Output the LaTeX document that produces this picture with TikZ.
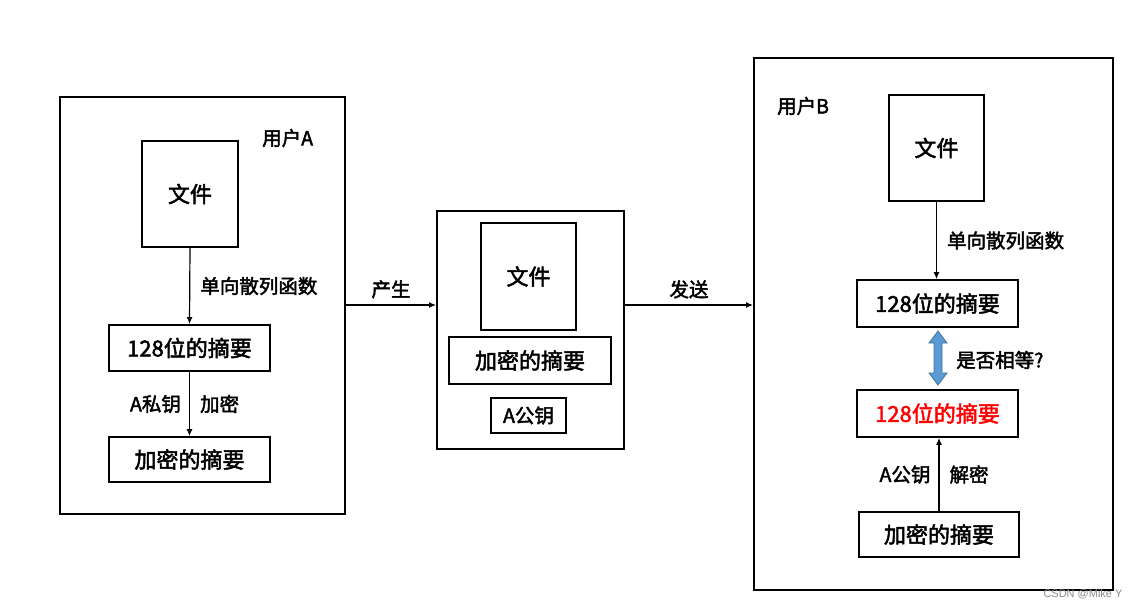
\documentclass[tikz,border=0pt]{standalone}
\usepackage{fontspec}
\setmainfont{Noto Sans CJK SC}[FakeBold=2.2]
\setsansfont{Liberation Sans}
\usetikzlibrary{arrows.meta}
\definecolor{dblue}{RGB}{65,113,156}
\definecolor{lblue}{RGB}{91,155,213}
\definecolor{wred}{RGB}{255,0,0}
\begin{document}
\begin{tikzpicture}[x=1pt,y=-1pt,
  box/.style={draw=black,line width=1.8pt,inner sep=0pt,fill=white},
  frame/.style={draw=black,line width=2pt,inner sep=0pt},
  txt/.style={font=\fontsize{22}{25}\selectfont,inner sep=0pt},
  lbl/.style={font=\fontsize{19.5}{23}\selectfont,inner sep=0pt},
  arr/.style={draw=black,line width=1.2pt,-{Latex[length=7pt,width=6pt]}}]
\useasboundingbox (0,0) rectangle (1137,609);
\fill[white] (0,0) rectangle (1137,609);
% user A
\node[frame,minimum width=285,minimum height=417] (ga) at (202.5,305.5) {};
\node[lbl,anchor=west] (ua) at (262,138) {用户A};
\node[box,txt,minimum width=96,minimum height=106] (fa) at (190,194) {文件};
\node[box,txt,minimum width=161,minimum height=46] (ha) at (189.5,348) {128位的摘要};
\node[box,txt,minimum width=161,minimum height=45] (ea) at (189.5,459.5) {加密的摘要};
\draw[arr] (fa.south) -- (ha.north) node[lbl,midway,right=10pt] (l1) {单向散列函数};
\draw[arr] (ha.south) -- (ea.north) node[lbl,midway,left=8pt] (l2) {A私钥}
  node[lbl,midway,right=10pt] (l3) {加密};
% middle
\node[frame,minimum width=187,minimum height=238] (mid) at (530.5,330) {};
\node[box,txt,minimum width=95,minimum height=107] (fm) at (528.5,276.5) {文件};
\node[box,txt,minimum width=162,minimum height=47] (em) at (530,360.5) {加密的摘要};
\node[box,lbl,minimum width=75,minimum height=35] (km) at (528.5,415.5) {A公钥};
\coordinate (p1) at (ga.east |- 0,305);
\coordinate (p2) at (mid.west |- 0,305);
\coordinate (p3) at (mid.east |- 0,305);
\draw[arr] (p1) -- (p2) node[lbl,midway,above=6pt] (l4) {产生};
% user B
\node[frame,minimum width=359,minimum height=532] (gb) at (933.5,324) {};
\node[lbl,anchor=west] (ub) at (777,106) {用户B};
\coordinate (p4) at (gb.west |- 0,305);
\draw[arr] (p3) -- (p4) node[lbl,midway,above=6pt] (l5) {发送};
\node[box,txt,minimum width=95,minimum height=106] (fb) at (936.5,148) {文件};
\node[box,txt,minimum width=161,minimum height=47] (hb) at (937.5,303.5) {128位的摘要};
\node[box,txt,text=wred,minimum width=161,minimum height=47] (rb) at (937.5,413.5) {128位的摘要};
\node[box,txt,minimum width=160,minimum height=45] (eb) at (939,534.5) {加密的摘要};
\draw[arr] (fb.south) -- (fb.south |- hb.north) node[lbl,midway,right=10pt] (l6) {单向散列函数};
\coordinate (q1) at (eb.north);
\coordinate (q2) at (eb.north |- rb.south);
\draw[arr] (q1) -- (q2) node[lbl,midway,left=8pt] (l7) {A公钥}
  node[lbl,midway,right=10pt] (l8) {解密};
% double arrow
\draw[fill=lblue,draw=dblue,line width=0.8pt]
  (938,331) -- (947,343) -- (942,343) -- (942,373) -- (947,373) -- (938,385)
  -- (929,373) -- (934,373) -- (934,343) -- (929,343) -- cycle;
\node[lbl,anchor=west] (eq) at (956,360) {是否相等?};
% watermark
\node[font=\sffamily\fontsize{11}{13}\selectfont,text=black!45,inner sep=0pt] (wm) at (1083,594) {CSDN @Mike Y};
\end{tikzpicture}
\end{document}
